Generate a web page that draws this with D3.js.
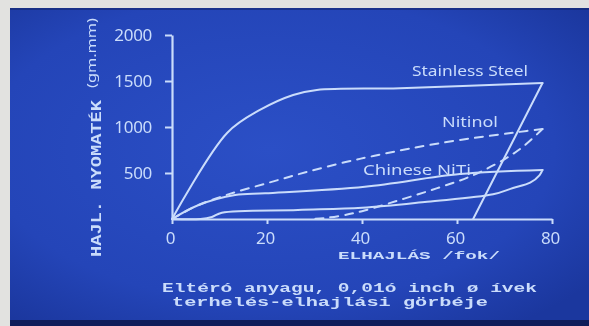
<!DOCTYPE html>
<html><head><meta charset="utf-8">
<script src="https://cdn.jsdelivr.net/npm/d3@7"></script>
<style>html,body{margin:0;padding:0;background:#e4e4e2;overflow:hidden}</style>
</head><body>
<svg id="c" width="589" height="326"></svg>
<script>
// ---- data ----
const xTicks = [0, 20, 40, 60, 80];
const yTicks = [500, 1000, 1500, 2000];
const seriesNames = ["Stainless Steel", "Nitinol", "Chinese NiTi"];
const stainlessLoad = [[0,0],[11.6,935],[18.5,1185],[25.5,1348],[30.5,1402],[48,1422],[78,1478]];
const stainlessUnload = [[78,1478],[63.4,0]];
const nitinolLoad = [[0,0],[5.5,150],[12,270],[20.6,398],[28.4,512],[36.8,622],[42.4,685],[50,765],[60.6,859],[74.7,957],[78,978]];
const nitinolUnload = [[78,978],[73.9,786],[69.7,641],[62.7,460],[55.7,333],[48,207],[40,85],[36,40],[32,10],[29,0]];
const chineseLoad = [[0,0],[5.5,150],[13.3,261],[19.6,279],[40.6,351],[60.6,489],[78,533]];
const chineseUnload = [[78,533],[77.4,478],[75.4,395],[71.8,337],[67.6,268],[53.7,188],[40,122],[26.5,98],[10.5,69],[8.4,22],[6,0],[0,0]];
const yTitle = "HAJL. NYOMATÉK";
const yUnit = "(gm.mm)";
const xTitle = "ELHAJLÁS /fok/";
const caption1 = "Eltéró anyagu, 0,01ó inch ø ívek";
const caption2 = "terhelés-elhajlási görbéje";

const svg = d3.select("#c");
const fg = "#cadcfb";

// photo background
const defs = svg.append("defs");
const rg = defs.append("radialGradient").attr("id","bg").attr("cx","45%").attr("cy","45%").attr("r","70%");
rg.append("stop").attr("offset","0%").attr("stop-color","#2b4fc6");
rg.append("stop").attr("offset","70%").attr("stop-color","#2445b8");
rg.append("stop").attr("offset","100%").attr("stop-color","#1b379e");
const blur = defs.append("filter").attr("id","soft");
blur.append("feGaussianBlur").attr("stdDeviation","0.45");

svg.append("rect").attr("x",0).attr("y",0).attr("width",589).attr("height",326).attr("fill","#e2e2e0");
svg.append("rect").attr("x",10).attr("y",8).attr("width",579).attr("height",314).attr("fill","url(#bg)");
svg.append("rect").attr("x",10).attr("y",8).attr("width",579).attr("height",2).attr("fill","#14276e").attr("opacity",0.6);
svg.append("rect").attr("x",10).attr("y",320).attr("width",579).attr("height",6).attr("fill","#0f1d5a");

const x = d3.scaleLinear().domain([0,80]).range([172,552]);
const y = d3.scaleLinear().domain([0,2000]).range([219,35]);

const g = svg.append("g").attr("filter","url(#soft)");

// axes
const ya = g.append("g").attr("transform",`translate(${x(0)},0)`)
  .call(d3.axisLeft(y).tickValues(yTicks).tickSize(7).tickSizeOuter(0).tickPadding(13).tickFormat(d3.format("d")));
const xa = g.append("g").attr("transform",`translate(0,${y(0)})`)
  .call(d3.axisBottom(x).tickValues(xTicks).tickSize(5).tickSizeOuter(0).tickPadding(8));
[ya, xa].forEach(a => {
  a.select(".domain").attr("stroke",fg).attr("stroke-width",2.2);
  a.selectAll(".tick line").attr("stroke",fg).attr("stroke-width",2);
  a.selectAll(".tick text").attr("fill",fg).attr("font-family","'Noto Sans', sans-serif").attr("font-size",17).attr("letter-spacing","-0.3");
});
xa.selectAll(".tick text").attr("dx","-2");

// curves
const line = d3.line().x(d => x(d[0])).y(d => y(d[1])).curve(d3.curveCatmullRom.alpha(0.5));
const straight = d3.line().x(d => x(d[0])).y(d => y(d[1]));
function draw(data, gen, dash) {
  g.append("path").attr("d", gen(data)).attr("fill","none").attr("stroke",fg)
    .attr("stroke-width",2).attr("stroke-linejoin","round").attr("stroke-linecap","round")
    .attr("stroke-dasharray", dash ? "8,7" : null);
}
draw(chineseLoad, line, false);
draw(chineseUnload, line, false);
draw(nitinolLoad, line, true);
draw(nitinolUnload, line, true);
draw(stainlessLoad, line, false);
draw(stainlessUnload, straight, false);

// series labels
const lab = [[seriesNames[0], 412, 76, 116], [seriesNames[1], 442, 127, 56], [seriesNames[2], 363, 175, 108]];
lab.forEach(l => g.append("text").text(l[0]).attr("x",l[1]).attr("y",l[2])
  .attr("fill",fg).attr("font-family","'Noto Sans', sans-serif").attr("font-size",15)
  .attr("textLength",l[3]).attr("lengthAdjust","spacingAndGlyphs"));

// axis titles
const mono = "'Liberation Mono', 'DejaVu Sans Mono', monospace";
g.append("text").text(yTitle).attr("transform","translate(101,257) rotate(-90)")
  .attr("fill",fg).attr("font-family",mono).attr("font-weight","bold").attr("font-size",15)
  .attr("textLength",157).attr("lengthAdjust","spacingAndGlyphs");
g.append("text").text(yUnit).attr("transform","translate(96,88) rotate(-90)")
  .attr("fill",fg).attr("font-family","'Noto Sans', sans-serif").attr("font-size",13)
  .attr("textLength",70).attr("lengthAdjust","spacingAndGlyphs");
g.append("text").text(xTitle).attr("x",338).attr("y",259)
  .attr("fill",fg).attr("font-family",mono).attr("font-weight","bold").attr("font-size",11)
  .attr("textLength",162).attr("lengthAdjust","spacingAndGlyphs");

// caption
g.append("text").text(caption1).attr("x",162).attr("y",292)
  .attr("fill",fg).attr("font-family",mono).attr("font-weight","bold").attr("font-size",13)
  .attr("textLength",375).attr("lengthAdjust","spacingAndGlyphs");
g.append("text").text(caption2).attr("x",172).attr("y",306)
  .attr("fill",fg).attr("font-family",mono).attr("font-weight","bold").attr("font-size",13)
  .attr("textLength",316).attr("lengthAdjust","spacingAndGlyphs");
</script>
</body></html>
